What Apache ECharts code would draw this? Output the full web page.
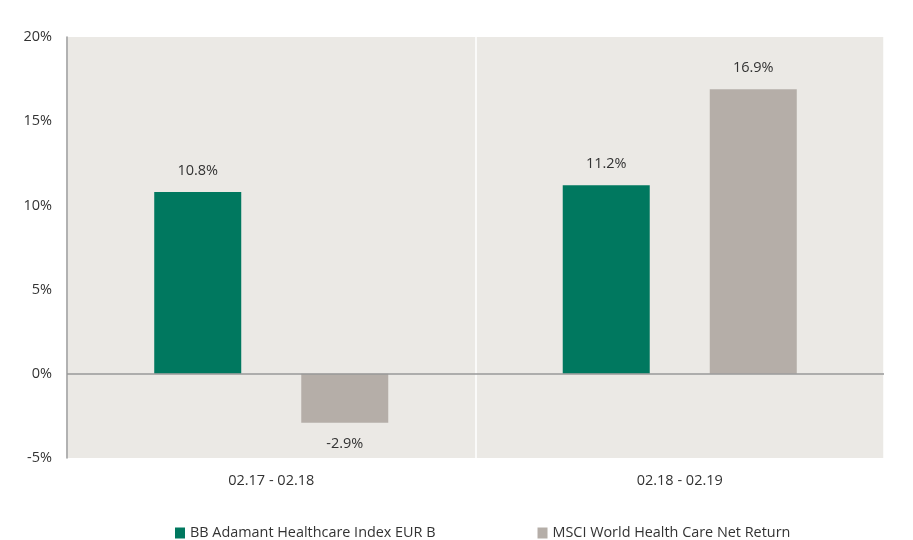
<!DOCTYPE html>
<html>
<head>
<meta charset="utf-8">
<script src="https://cdn.jsdelivr.net/npm/echarts@6/dist/echarts.min.js"></script>
<style>html,body{margin:0;padding:0;background:#fff;}#c{width:913px;height:540px;}</style>
</head>
<body>
<div id="c"></div>
<script>
const categories = ['02.17 - 02.18', '02.18 - 02.19'];
const seriesNames = ['BB Adamant Healthcare Index EUR B', 'MSCI World Health Care Net Return'];
const bbValues = [10.8, 11.2];
const msciValues = [-2.9, 16.9];
const yTicks = { min: -5, max: 20, interval: 5 };

const FONT = 'Open Sans';
const TXT = '#333333';
const FS = 14.5;
const colors = ['#00785f', '#b5aea8'];

function toData(vals) {
  return vals.map(v => ({ value: v, label: { position: v < 0 ? 'bottom' : 'top' } }));
}

const chart = echarts.init(document.getElementById('c'));
chart.setOption({
  animation: false,
  textStyle: { fontFamily: FONT },
  grid: { left: 67, right: 29, top: 37, bottom: 82, show: true, backgroundColor: '#ebe9e5', borderWidth: 0 },
  legend: {
    left: 170, top: 521, itemWidth: 10, itemHeight: 11, itemGap: 102,
    icon: 'rect',
    textStyle: { fontSize: 14.4, color: TXT, fontFamily: FONT },
    data: seriesNames
  },
  xAxis: {
    type: 'category', data: categories,
    axisLine: { show: false }, axisTick: { show: false },
    axisLabel: { fontSize: FS, color: TXT, margin: 15, fontFamily: FONT },
    splitLine: { show: true, lineStyle: { color: '#ffffff', width: 1.5 } }
  },
  yAxis: {
    type: 'value', min: yTicks.min, max: yTicks.max, interval: yTicks.interval,
    axisLine: { show: true, lineStyle: { color: '#999999', width: 1.5 } },
    axisTick: { show: false },
    splitLine: { show: false },
    axisLabel: { fontSize: FS, color: TXT, margin: 15, formatter: '{value}%', fontFamily: FONT }
  },
  series: [
    {
      name: seriesNames[0], type: 'bar', data: toData(bbValues),
      barWidth: 87, barGap: '69%',
      itemStyle: { color: colors[0] },
      label: { show: true, distance: 14, fontSize: FS, color: TXT, formatter: p => p.value.toFixed(1) + '%', fontFamily: FONT },
      markLine: {
        silent: true, symbol: ['none', 'none'], label: { show: false },
        lineStyle: { color: '#999999', width: 1.5, type: 'solid' },
        data: [{ yAxis: 0 }], z: 5
      }
    },
    {
      name: seriesNames[1], type: 'bar', data: toData(msciValues),
      barWidth: 87, barGap: '69%',
      itemStyle: { color: colors[1] },
      label: { show: true, distance: 14, fontSize: FS, color: TXT, formatter: p => p.value.toFixed(1) + '%', fontFamily: FONT }
    }
  ]
});
</script>
</body>
</html>
